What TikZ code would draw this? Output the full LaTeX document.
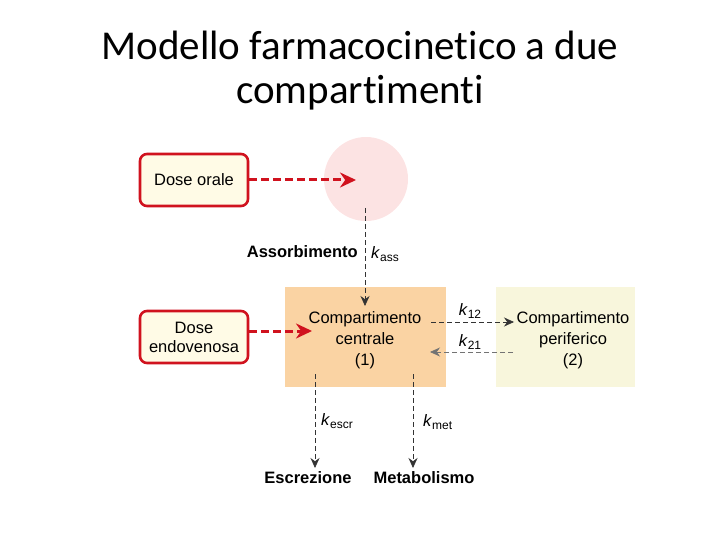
\documentclass[tikz,border=0pt]{standalone}
\usepackage{fontspec}
\setmainfont{Liberation Sans}
\newfontfamily\titlefont[RawFeature=-liga]{Carlito}
\usetikzlibrary{arrows.meta}
\definecolor{cream}{HTML}{FFFBE6}
\definecolor{dred}{HTML}{D0121E}
\definecolor{pinkc}{HTML}{FCE3E3}
\definecolor{orangec}{HTML}{FAD3A3}
\definecolor{periph}{HTML}{F8F6DC}
\newcommand{\kk}[1]{\textit{k}\raisebox{-0.35ex}{\fontsize{12}{13}\selectfont #1}}
\tikzset{
 dosebox/.style={draw=dred,line width=2.6pt,rounded corners=7pt,fill=cream,minimum width=108pt,minimum height=52pt,align=center,font=\fontsize{16.5}{19}\selectfont,inner sep=1pt},
 redarrow/.style={draw=dred,line width=3pt,dash pattern=on 8pt off 4pt,-{Stealth[length=16pt,width=15pt]}},
 blkarrow/.style={draw=black!80,line width=0.7pt,dash pattern=on 5pt off 3pt,-{Stealth[length=10pt,width=9pt]}},
 lbl/.style={font=\fontsize{16.5}{21}\selectfont,inner sep=1pt},
 blbl/.style={font=\bfseries\fontsize{16.5}{19}\selectfont,inner sep=1pt}
}
\begin{document}
\begin{tikzpicture}[x=1pt,y=-1pt]
\useasboundingbox (0,0) rectangle (720,540);
\node[font=\titlefont\fontsize{41}{44}\selectfont] (t1) at (360,45) {Modello farmacocinetico a due};
\node[font=\titlefont\fontsize{41}{44}\selectfont] (t2) at (360,93) {compartimenti};
\node[circle,fill=pinkc,minimum size=84pt,inner sep=0pt] (circ) at (366,179) {};
\node[dosebox] (orale) at (194,180) {Dose orale};
\node[dosebox] (endo) at (194,337) {Dose\\endovenosa};
\node[fill=orangec,minimum width=161pt,minimum height=100pt] (cent) at (365.5,337) {};
\node[lbl,align=center] (centt) at (365,340) {Compartimento\\centrale\\(1)};
\node[fill=periph,minimum width=139pt,minimum height=100pt] (per) at (565.5,337) {};
\node[lbl,align=center] (pert) at (573,340) {Compartimento\\periferico\\(2)};
\coordinate (oa) at (356,180);
\draw[redarrow] (orale.east) -- (oa);
\coordinate (ea) at (312,331);
\draw[redarrow] (endo.east |- ea) -- (ea);
\coordinate (c1) at (365,208);
\coordinate (c2) at (365,306);
\draw[blkarrow] (c1) -- (c2);
\node[blbl,anchor=east] (ass) at (359,252) {Assorbimento};
\node[lbl,anchor=west] (kass) at (370,254) {\kk{ass}};
\coordinate (a1) at (431,322);
\coordinate (a2) at (514,322);
\draw[blkarrow] (a1) -- (a2);
\node[lbl] (k12) at (470,311) {\kk{12}};
\coordinate (b1) at (513,352);
\coordinate (b2) at (430,352);
\draw[blkarrow,draw=black!55] (b1) -- (b2);
\node[lbl] (k21) at (470,342) {\kk{21}};
\coordinate (e1) at (315,374);
\coordinate (e2) at (315,468);
\draw[blkarrow] (e1) -- (e2);
\node[lbl,anchor=west] (kescr) at (320,421) {\kk{escr}};
\node[lbl,anchor=west] (kmet) at (422,422) {\kk{met}};
\coordinate (m1) at (413,374);
\coordinate (m2) at (413,468);
\draw[blkarrow] (m1) -- (m2);
\node[blbl] (escr) at (308,478) {Escrezione};
\node[blbl] (met) at (424,478) {Metabolismo};
\end{tikzpicture}
\end{document}
